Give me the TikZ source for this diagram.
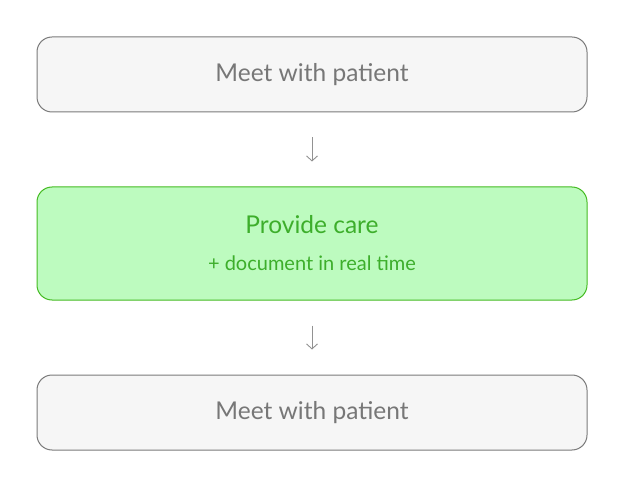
\documentclass[tikz,border=0pt]{standalone}
\usepackage{fontspec}
\setmainfont{Lato}
\usetikzlibrary{positioning,arrows.meta}
\definecolor{boxgray}{HTML}{F6F6F6}
\definecolor{linegray}{HTML}{7A7A7A}
\definecolor{textgray}{HTML}{777777}
\definecolor{carefill}{HTML}{BDFBBF}
\definecolor{careline}{HTML}{44BB22}
\definecolor{caretext}{HTML}{3DAE2B}
\tikzset{
  stepbox/.style={draw=linegray, fill=boxgray, rounded corners=15pt, line width=1pt,
    minimum width=550pt, minimum height=75pt, text=textgray,
    font=\fontsize{24.5}{29}\selectfont},
  carebox/.style={stepbox, draw=careline, fill=carefill, text=caretext,
    minimum height=113pt, align=center},
  flow/.style={draw=textgray!80, line width=0.9pt,
    -{Straight Barb[length=5pt,width=11pt]}, shorten >=25pt, shorten <=25pt}
}
\begin{document}
\begin{tikzpicture}[x=1pt,y=1pt]
  \useasboundingbox (0,0) rectangle (624,488);
  \node[stepbox] (meet) at (312,413.5) {Meet with patient};
  \node[carebox] (care) at (312,244.5)
    {Provide care\\[8pt]{\fontsize{20}{24}\selectfont + document in real time}};
  \node[stepbox] (after) at (312,75.5) {Meet with patient};
  \draw[flow] (meet) -- (care);
  \draw[flow] (care) -- (after);
\end{tikzpicture}
\end{document}
